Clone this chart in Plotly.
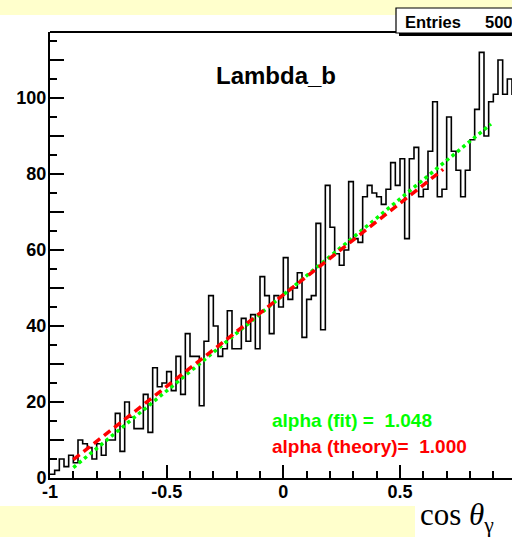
import numpy as np
import plotly.graph_objects as go

# ---------------- data ----------------
counts = [1, 2, 5, 3, 6, 4, 10, 9, 8, 5,
          9, 6, 10, 10, 17, 7, 20, 16, 13, 13,
          22, 12, 29, 24, 25, 28, 23, 32, 22, 38,
          32, 32, 19, 36, 48, 40, 32, 34, 44, 34,
          34, 42, 36, 43, 34, 53, 48, 38, 48, 45,
          58, 47, 50, 54, 37, 47, 48, 67, 39, 77,
          66, 59, 56, 60, 78, 63, 62, 74, 77, 75,
          74, 72, 76, 83, 77, 84, 63, 84, 87, 74,
          76, 86, 99, 74, 76, 95, 86, 81, 74, 81,
          89, 97, 112, 90, 99, 101, 110, 101, 105, 101]
n_bins = 100
x_lo, x_hi = -1.0, 1.0
entries = 5000
norm = 48.2
alpha_fit = 1.048
alpha_theory = 1.000
fit_range = [-0.9, 0.89]
theory_range = [-0.9, 0.685]
title_text = "Lambda_b"
xlabel = "cos <i>θ</i><sub>γ</sub>"
x_tickvals = [-1, -0.5, 0, 0.5]
x_ticktext = ["-1", "-0.5", "0", "0.5"]
y_tickvals = [0, 10, 20, 30, 40, 50, 60, 70, 80, 90, 100, 110]
y_ticktext = ["0", " ", "20", " ", "40", " ", "60", " ", "80", " ", "100", " "]

# ---------------- geometry helpers ----------------
W, H = 512, 537
L, R, T, B = 50, 512, 32, 478   # plot area in pixels


def px(x):
    return (x - L) / (R - L)


def py(y):
    return (B - y) / (B - T)


edges = np.linspace(x_lo, x_hi, n_bins + 1)
hy = list(counts) + [counts[-1]]

fig = go.Figure()
fig.add_trace(go.Scatter(x=edges, y=hy, mode="lines",
                         line=dict(color="black", width=1.6, shape="hv"),
                         hoverinfo="skip"))
fx = np.linspace(fit_range[0], fit_range[1], 60)
fig.add_trace(go.Scatter(x=fx, y=norm * (1 + alpha_fit * fx), mode="lines",
                         line=dict(color="#00ff00", width=3.5, dash="dot"),
                         hoverinfo="skip"))
tx = np.linspace(theory_range[0], theory_range[1], 60)
fig.add_trace(go.Scatter(x=tx, y=norm * (1 + alpha_theory * tx), mode="lines",
                         line=dict(color="#ff0000", width=3.5, dash="8px,5px"),
                         hoverinfo="skip"))

tickfont = dict(family="Liberation Sans", size=18, color="black", weight="bold")
y_max = (B - T) / 3.8
x_max = x_lo + (R - L) / 233.33

fig.update_layout(
    width=W, height=H,
    margin=dict(l=L, r=W - R, t=T, b=H - B, pad=0),
    paper_bgcolor="white", plot_bgcolor="white", showlegend=False,
    xaxis=dict(range=[x_lo, x_max], showline=True, linecolor="black", linewidth=2,
               showgrid=False, zeroline=False, ticks="inside",
               tickvals=x_tickvals, ticktext=x_ticktext, ticklabelstandoff=-4,
               ticklen=13, tickwidth=1.5, tickcolor="black", tickfont=tickfont,
               minor=dict(dtick=0.1, tick0=0, ticks="inside", ticklen=7,
                          tickwidth=1.5, tickcolor="black", showgrid=False)),
    yaxis=dict(range=[0, y_max], showline=True, linecolor="black", linewidth=2,
               showgrid=False, zeroline=False, ticks="inside",
               tickvals=y_tickvals, ticktext=y_ticktext, ticklabelstandoff=-2,
               ticklen=14, tickwidth=1.5, tickcolor="black", tickfont=tickfont,
               minor=dict(dtick=5, tick0=0, ticks="inside", ticklen=7,
                          tickwidth=1.5, tickcolor="black", showgrid=False)),
)

yellow = "#ffffcc"
shapes = [
    dict(type="rect", xref="paper", yref="paper", x0=px(0), x1=px(W), y0=py(15), y1=py(0),
         fillcolor=yellow, line=dict(width=0), layer="below"),
    dict(type="rect", xref="paper", yref="paper", x0=px(0), x1=px(415), y0=py(H), y1=py(506),
         fillcolor=yellow, line=dict(width=0), layer="below"),
    dict(type="line", xref="paper", yref="paper", x0=0, x1=1, y0=1, y1=1,
         line=dict(color="black", width=2)),
    # stats box shadow + box
    dict(type="rect", xref="paper", yref="paper", x0=px(399), x1=px(530), y0=py(36), y1=py(11),
         fillcolor="black", line=dict(width=0)),
    dict(type="rect", xref="paper", yref="paper", x0=px(396), x1=px(530), y0=py(33), y1=py(8),
         fillcolor="white", line=dict(color="black", width=1.2)),
]
fig.update_layout(shapes=shapes)

bold = dict(family="Liberation Sans", color="black", weight="bold")
ann = [
    dict(text=title_text, x=px(276), y=py(76), xanchor="center", yanchor="middle",
         font=dict(bold, size=24)),
    dict(text="alpha (fit) =  %.3f" % alpha_fit, x=px(270), y=py(420), xanchor="left",
         yanchor="middle", font=dict(family="Liberation Sans", size=19, color="#00ff00", weight="bold")),
    dict(text="alpha (theory)=  %.3f" % alpha_theory, x=px(270), y=py(446), xanchor="left",
         yanchor="middle", font=dict(family="Liberation Sans", size=19, color="#ff0000", weight="bold")),
    dict(text="Entries", x=px(403), y=py(21.5), xanchor="left", yanchor="middle",
         font=dict(bold, size=16.5)),
    dict(text=str(entries)[:3], x=px(483), y=py(21.5), xanchor="left", yanchor="middle",
         font=dict(bold, size=16.5)),
    dict(text=xlabel, x=px(418), y=py(517), xanchor="left", yanchor="middle",
         font=dict(family="Liberation Serif", size=31, color="black")),
]
for a in ann:
    a.update(xref="paper", yref="paper", showarrow=False)
fig.update_layout(annotations=ann)

fig.write_html("out.html")
